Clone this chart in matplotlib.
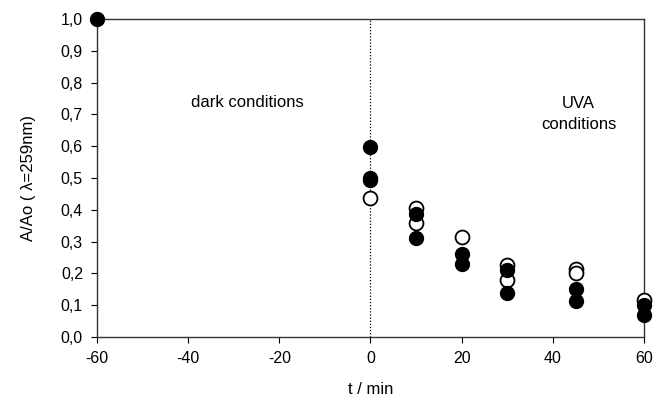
import matplotlib
matplotlib.use('Agg')
import matplotlib.pyplot as plt
from matplotlib.ticker import FuncFormatter

plt.rcParams.update({
    'font.family': ['Liberation Sans', 'DejaVu Sans'],
    'font.size': 12,
    'axes.unicode_minus': False,
})

# filled symbols (t / min, A/Ao)
t_filled = [-60, 0, 0, 0, 10, 10, 20, 20, 30, 30, 45, 45, 60, 60]
a_filled = [1.0, 0.598, 0.501, 0.492, 0.387, 0.310, 0.261, 0.230,
            0.211, 0.137, 0.150, 0.114, 0.101, 0.069]

# open symbols
t_open = [0, 10, 10, 20, 30, 30, 45, 45, 60]
a_open = [0.438, 0.405, 0.358, 0.315, 0.226, 0.179, 0.213, 0.202, 0.116]

fig = plt.figure(figsize=(6.54, 4.03), dpi=100)
ax = fig.add_axes([0.148, 0.164, 0.837, 0.789])

ax.axvline(0, color='black', linestyle=(0, (1, 1.5)), linewidth=0.9, zorder=1)

ax.plot(t_open, a_open, 'o', markersize=10, markerfacecolor='white',
        markeredgecolor='black', markeredgewidth=1.3, zorder=3, clip_on=False)
ax.plot(t_filled, a_filled, 'o', markersize=10, color='black', zorder=4,
        clip_on=False)

ax.text(-27, 0.736, 'dark conditions', ha='center', va='center', fontsize=12)
ax.text(45.6, 0.70, 'UVA\nconditions', ha='center', va='center', fontsize=12,
        linespacing=1.5)

ax.set_xlim(-60, 60)
ax.set_ylim(0, 1.0)
ax.set_xticks(range(-60, 61, 20))
ax.set_yticks([i / 10 for i in range(11)])
ax.yaxis.set_major_formatter(FuncFormatter(lambda v, p: f'{v:.1f}'.replace('.', ',')))
ax.tick_params(direction='out', length=4, width=0.8, pad=6, labelsize=11.5)

for s in ax.spines.values():
    s.set_linewidth(1.0)
    s.set_color('#333333')

ax.set_xlabel('t / min', fontsize=12, labelpad=12)
ax.set_ylabel('A/Ao ( λ=259nm)', fontsize=12, labelpad=18)

fig.savefig('out.png', dpi=100, facecolor='white')
